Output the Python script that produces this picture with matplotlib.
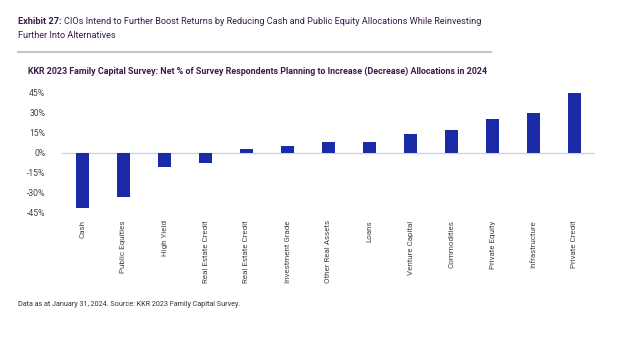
import matplotlib.pyplot as plt
import numpy as np

plt.rcParams['font.family'] = ['Roboto', 'DejaVu Sans']

categories = ['Cash', 'Public Equities', 'High Yield', 'Real Estate Credit',
              'Real Estate Credit', 'Investment Grade', 'Other Real Assets',
              'Loans', 'Venture Capital', 'Commodities', 'Private Equity',
              'Infrastructure', 'Private Credit']
net_pct = [-42, -34, -11, -8, 3, 5, 8, 8, 14, 17, 25, 30, 45]
yticks = [-45, -30, -15, 0, 15, 30, 45]

purple = '#3b1a4c'
bar_color = '#1b2aa6'

fig = plt.figure(figsize=(6.4, 3.41), dpi=100)
renderer = fig.canvas.get_renderer()

# headline + rule
lead = fig.text(18/640, 1 - 22/341, 'Exhibit 27:', fontsize=6.6, fontweight='bold',
                color=purple, va='center', ha='left')
bb = lead.get_window_extent(renderer)
fig.text(bb.x1/640 + 2/640, 1 - 22/341,
         'CIOs Intend to Further Boost Returns by Reducing Cash and Public Equity Allocations While Reinvesting',
         fontsize=6.6, color=purple, va='center', ha='left')
fig.text(18/640, 1 - 35/341, 'Further Into Alternatives',
         fontsize=6.6, color=purple, va='center', ha='left')
fig.add_artist(plt.Line2D([18/640, 491/640], [1 - 52/341, 1 - 52/341],
                          color='#c4c4c4', lw=1.5))

fig.text(28/640, 1 - 71/341,
         'KKR 2023 Family Capital Survey: Net % of Survey Respondents Planning to Increase (Decrease) Allocations in 2024',
         fontsize=6.4, fontweight='bold', color=purple, va='center', ha='left')

ax = fig.add_axes([62/640, 1 - 212/341, 533/640, 119/341])
x = np.arange(len(categories))
ax.bar(x, net_pct, width=0.32, color=bar_color)
ax.axhline(0, color='#cfd3e4', lw=1, zorder=0)

ax.set_xlim(-0.5, len(categories) - 0.5)
ax.set_ylim(-45, 45)
ax.set_yticks(yticks)
ax.set_yticklabels([f'{v}%' for v in yticks], fontsize=6.2, color='#444444')
ax.set_xticks(x)
ax.set_xticklabels(categories, rotation=90, fontsize=5.8, color='#444444',
                   va='top')
ax.tick_params(axis='both', length=0)
ax.tick_params(axis='y', pad=12)
ax.tick_params(axis='x', pad=6)
for s in ax.spines.values():
    s.set_visible(False)

fig.text(18/640, 1 - 305/341,
         'Data as at January 31, 2024. Source: KKR 2023 Family Capital Survey.',
         fontsize=5.2, color='#333333', va='center', ha='left')

fig.savefig('out.png', dpi=100, facecolor='white')
